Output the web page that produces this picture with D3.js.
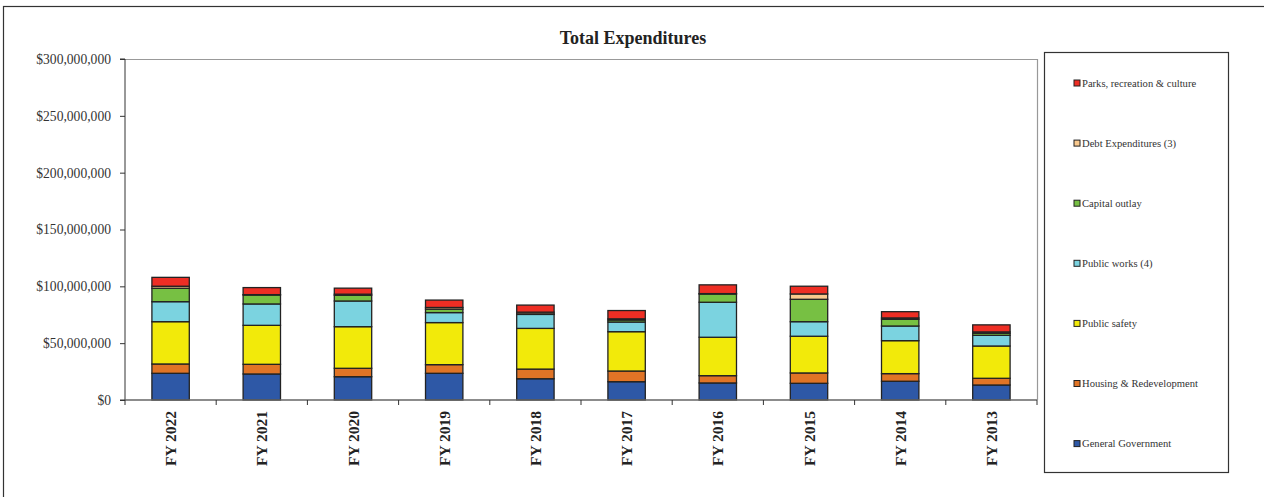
<!DOCTYPE html>
<html>
<head>
<meta charset="utf-8">
<script src="https://cdn.jsdelivr.net/npm/d3@7"></script>
<style>
  body { margin: 0; background: #fff; }
  svg { display: block; font-family: "Liberation Serif", "Times New Roman", serif; }
</style>
</head>
<body>
<script>
var years = ['FY 2022', 'FY 2021', 'FY 2020', 'FY 2019', 'FY 2018', 'FY 2017', 'FY 2016', 'FY 2015', 'FY 2014', 'FY 2013'];

// millions of dollars, bottom to top
var generalGov   = [23.5, 22.9, 20.5, 23.5, 18.7, 16.1, 15.0, 14.7, 16.5, 13.2];
var housing      = [8.2, 8.5, 7.4, 7.6, 8.5, 9.4, 6.4, 9.1, 6.7, 5.9];
var publicSafety = [37.2, 34.3, 36.6, 37.0, 35.8, 34.6, 33.8, 32.3, 29.0, 28.4];
var publicWorks  = [17.6, 18.8, 22.6, 8.8, 12.3, 8.5, 30.8, 12.8, 12.9, 9.4];
var capital      = [11.8, 7.9, 5.0, 3.0, 0.5, 1.8, 7.3, 19.7, 5.9, 1.8];
var debt         = [1.8, 0.3, 1.0, 1.5, 1.5, 1.0, 0.3, 4.7, 1.2, 1.2];
var parks        = [7.8, 6.2, 5.3, 6.5, 6.2, 7.3, 7.7, 6.8, 5.5, 6.2];

var seriesNames = ['General Government', 'Housing & Redevelopment', 'Public safety', 'Public works (4)', 'Capital outlay', 'Debt Expenditures (3)', 'Parks, recreation & culture'];
var seriesValues = [generalGov, housing, publicSafety, publicWorks, capital, debt, parks];
var seriesColors = ['#2E58A6', '#E07426', '#F2EA0A', '#7BD3E0', '#77C043', '#F9C98E', '#EE2E24'];
var yTicks = [0, 50, 100, 150, 200, 250, 300];

var width = 1264, height = 497;
var plotLeft = 125, plotRight = 1037, plotTop = 59, plotBottom = 400;

var svg = d3.select('body').append('svg')
  .attr('width', width)
  .attr('height', height);

// outer frame
svg.append('rect')
  .attr('x', 3.5).attr('y', 6.5)
  .attr('width', width + 10).attr('height', height + 10)
  .attr('fill', 'none').attr('stroke', '#333').attr('stroke-width', 1.2);

var table = years.map(function(yr, i) {
  var row = { year: yr };
  seriesNames.forEach(function(n, k) { row[n] = seriesValues[k][i]; });
  return row;
});

var stacked = d3.stack().keys(seriesNames)(table);

var x = d3.scaleBand().domain(years).range([plotLeft, plotRight]).paddingInner(0.59).paddingOuter(0.295);
var xb = d3.scaleBand().domain(years).range([plotLeft, plotRight]);
var y = d3.scaleLinear().domain([0, 300]).range([plotBottom, plotTop]);

// plot frame (top & right)
svg.append('path')
  .attr('d', 'M' + plotLeft + ',' + (plotTop + 0.5) + 'H' + (plotRight + 0.5) + 'V' + plotBottom)
  .attr('fill', 'none').attr('stroke', '#999').attr('stroke-width', 1.2);

svg.append('text')
  .attr('x', 633).attr('y', 44)
  .attr('text-anchor', 'middle')
  .attr('font-size', 18).attr('font-weight', 'bold')
  .attr('fill', '#222')
  .text('Total Expenditures');

var layers = svg.append('g').selectAll('g')
  .data(stacked)
  .enter().append('g')
  .attr('fill', function(d, i) { return seriesColors[i]; });

layers.selectAll('rect')
  .data(function(d) { return d; })
  .enter().append('rect')
  .attr('x', function(d) { return x(d.data.year); })
  .attr('y', function(d) { return y(d[1]); })
  .attr('width', x.bandwidth())
  .attr('height', function(d) { return y(d[0]) - y(d[1]); })
  .attr('stroke', '#222')
  .attr('stroke-width', 1.3);

// y axis
var yAxis = svg.append('g')
  .attr('transform', 'translate(' + plotLeft + ',0)')
  .call(d3.axisLeft(y).tickValues(yTicks).tickSize(5).tickPadding(9)
    .tickFormat(function(d) { return d === 0 ? '$0' : '$' + d3.format(',')(d * 1000000); }));
yAxis.selectAll('text').attr('font-size', 13.6).attr('fill', '#333').attr('font-family', '"Liberation Serif", serif');
yAxis.selectAll('line, path').attr('stroke', '#333');
yAxis.select('.domain').attr('d', 'M-5,' + plotTop + 'H0V' + plotBottom + 'H-5');

// x axis baseline + boundary ticks
var xg = svg.append('g').attr('transform', 'translate(0,' + plotBottom + ')');
xg.append('line').attr('x1', plotLeft).attr('x2', plotRight).attr('stroke', '#666').attr('stroke-width', 1.3);
xg.selectAll('line.tk')
  .data(years.concat(['end']))
  .enter().append('line')
  .attr('class', 'tk')
  .attr('x1', function(d, i) { return plotLeft + i * xb.bandwidth(); })
  .attr('x2', function(d, i) { return plotLeft + i * xb.bandwidth(); })
  .attr('y1', 0).attr('y2', 5)
  .attr('stroke', '#333');

xg.selectAll('text')
  .data(years)
  .enter().append('text')
  .attr('transform', function(d) { return 'translate(' + (xb(d) + xb.bandwidth() / 2 + 5.5) + ',11) rotate(-90)'; })
  .attr('text-anchor', 'end')
  .attr('font-size', 15.5).attr('font-weight', 'bold')
  .attr('fill', '#222')
  .text(function(d) { return d; });

// legend
var lg = svg.append('g');
lg.append('rect')
  .attr('x', 1044.5).attr('y', 52.5)
  .attr('width', 184).attr('height', 420)
  .attr('fill', '#fff').attr('stroke', '#333').attr('stroke-width', 1.2);

var legendOrder = d3.range(seriesNames.length).reverse();
var items = lg.selectAll('g.item')
  .data(legendOrder)
  .enter().append('g')
  .attr('class', 'item')
  .attr('transform', function(d, i) { return 'translate(1074,' + (83 + i * 60.1) + ')'; });

items.append('rect')
  .attr('x', 0).attr('y', -3).attr('width', 6).attr('height', 6)
  .attr('fill', function(d) { return seriesColors[d]; })
  .attr('stroke', '#222').attr('stroke-width', 1);

items.append('text')
  .attr('x', 8).attr('y', 3.5)
  .attr('font-size', 10.6).attr('fill', '#333')
  .text(function(d) { return seriesNames[d]; });
</script>
</body>
</html>
